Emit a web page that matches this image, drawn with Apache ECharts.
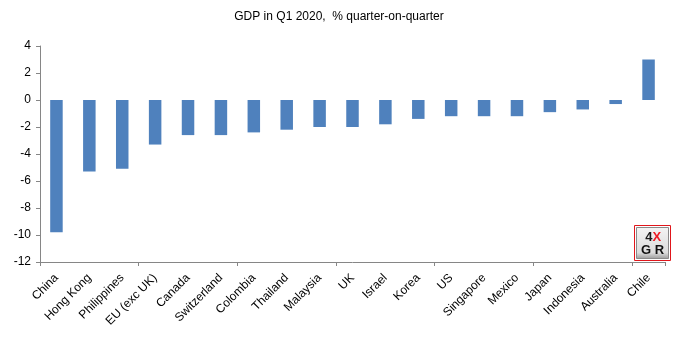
<!DOCTYPE html>
<html>
<head>
<meta charset="utf-8">
<script src="https://cdn.jsdelivr.net/npm/echarts@6/dist/echarts.min.js"></script>
<style>
  html, body { margin: 0; padding: 0; background: #ffffff; }
  #chart { width: 678px; height: 343px; }
</style>
</head>
<body>
<div id="chart"></div>
<script>
// Quarter-on-quarter GDP growth, Q1 2020 (%)
const countries = ['China', 'Hong Kong', 'Philippines', 'EU (exc UK)', 'Canada', 'Switzerland',
  'Colombia', 'Thailand', 'Malaysia', 'UK', 'Israel', 'Korea', 'US', 'Singapore', 'Mexico',
  'Japan', 'Indonesia', 'Australia', 'Chile'];
const gdpGrowth = [-9.8, -5.3, -5.1, -3.3, -2.6, -2.6, -2.4, -2.2, -2.0, -2.0, -1.8, -1.4,
  -1.2, -1.2, -1.2, -0.9, -0.7, -0.3, 3.0];
const yTicks = { min: -12, max: 4, step: 2 };

const FONT = '"Liberation Sans", Arial, sans-serif';
const AXIS_GREY = '#868686';

const chart = echarts.init(document.getElementById('chart'), null, { renderer: 'canvas' });

chart.setOption({
  animation: false,
  backgroundColor: '#ffffff',
  title: {
    text: 'GDP in Q1 2020,  % quarter-on-quarter',
    left: 'center',
    top: 6,
    textStyle: { fontFamily: FONT, fontSize: 12, fontWeight: 'normal', color: '#000000' }
  },
  grid: { left: 40, right: 13, top: 46, bottom: 81, containLabel: false },
  xAxis: [
    {
      // labels along the bottom edge
      type: 'category',
      data: countries,
      position: 'bottom',
      axisLine: { show: false },
      axisTick: { show: false },
      axisLabel: {
        rotate: 45,
        interval: 0,
        margin: 14,
        fontFamily: FONT,
        fontSize: 12,
        color: '#000000'
      }
    },
    {
      // zero line with tick marks between categories
      type: 'category',
      data: countries,
      position: 'bottom',
      axisLine: { show: true, onZero: true, lineStyle: { color: AXIS_GREY, width: 1 } },
      axisTick: { show: true, length: 4, lineStyle: { color: AXIS_GREY } },
      axisLabel: { show: false }
    }
  ],
  yAxis: {
    type: 'value',
    min: yTicks.min,
    max: yTicks.max,
    interval: yTicks.step,
    axisLine: { show: true, onZero: false, lineStyle: { color: AXIS_GREY, width: 1 } },
    axisTick: { show: true, length: 4, lineStyle: { color: AXIS_GREY } },
    splitLine: { show: false },
    axisLabel: { margin: 9, fontFamily: FONT, fontSize: 12, color: '#000000' }
  },
  series: [{
    type: 'bar',
    data: gdpGrowth,
    xAxisIndex: 1,
    barWidth: '38%',
    itemStyle: { color: '#4f81bd' }
  }],
  graphic: [
    {
      type: 'group',
      left: 632,
      top: 223,
      children: [
        { type: 'rect', shape: { x: 0, y: 0, width: 36, height: 35 },
          style: { fill: 'none', stroke: '#e0161b', lineWidth: 1 } },
        { type: 'rect', shape: { x: 2, y: 2, width: 32, height: 31 },
          style: {
            fill: new echarts.graphic.LinearGradient(0, 0, 0, 1, [
              { offset: 0, color: '#f4f4f4' }, { offset: 0.8, color: '#dcdcdc' }, { offset: 1, color: '#9a9a9a' }
            ]),
            stroke: '#8a8a8a', lineWidth: 1
          } },
        { type: 'text', x: 18, y: 5, style: { text: '4', fill: '#1a1a1a', font: 'bold 13px ' + FONT, align: 'right' } },
        { type: 'text', x: 18, y: 5, style: { text: 'X', fill: '#ee1c25', font: 'bold 13px ' + FONT, align: 'left' } },
        { type: 'text', x: 18, y: 18, style: { text: 'G R', fill: '#111111', font: 'bold 13px ' + FONT, align: 'center' } }
      ]
    }
  ]
});
</script>
</body>
</html>
